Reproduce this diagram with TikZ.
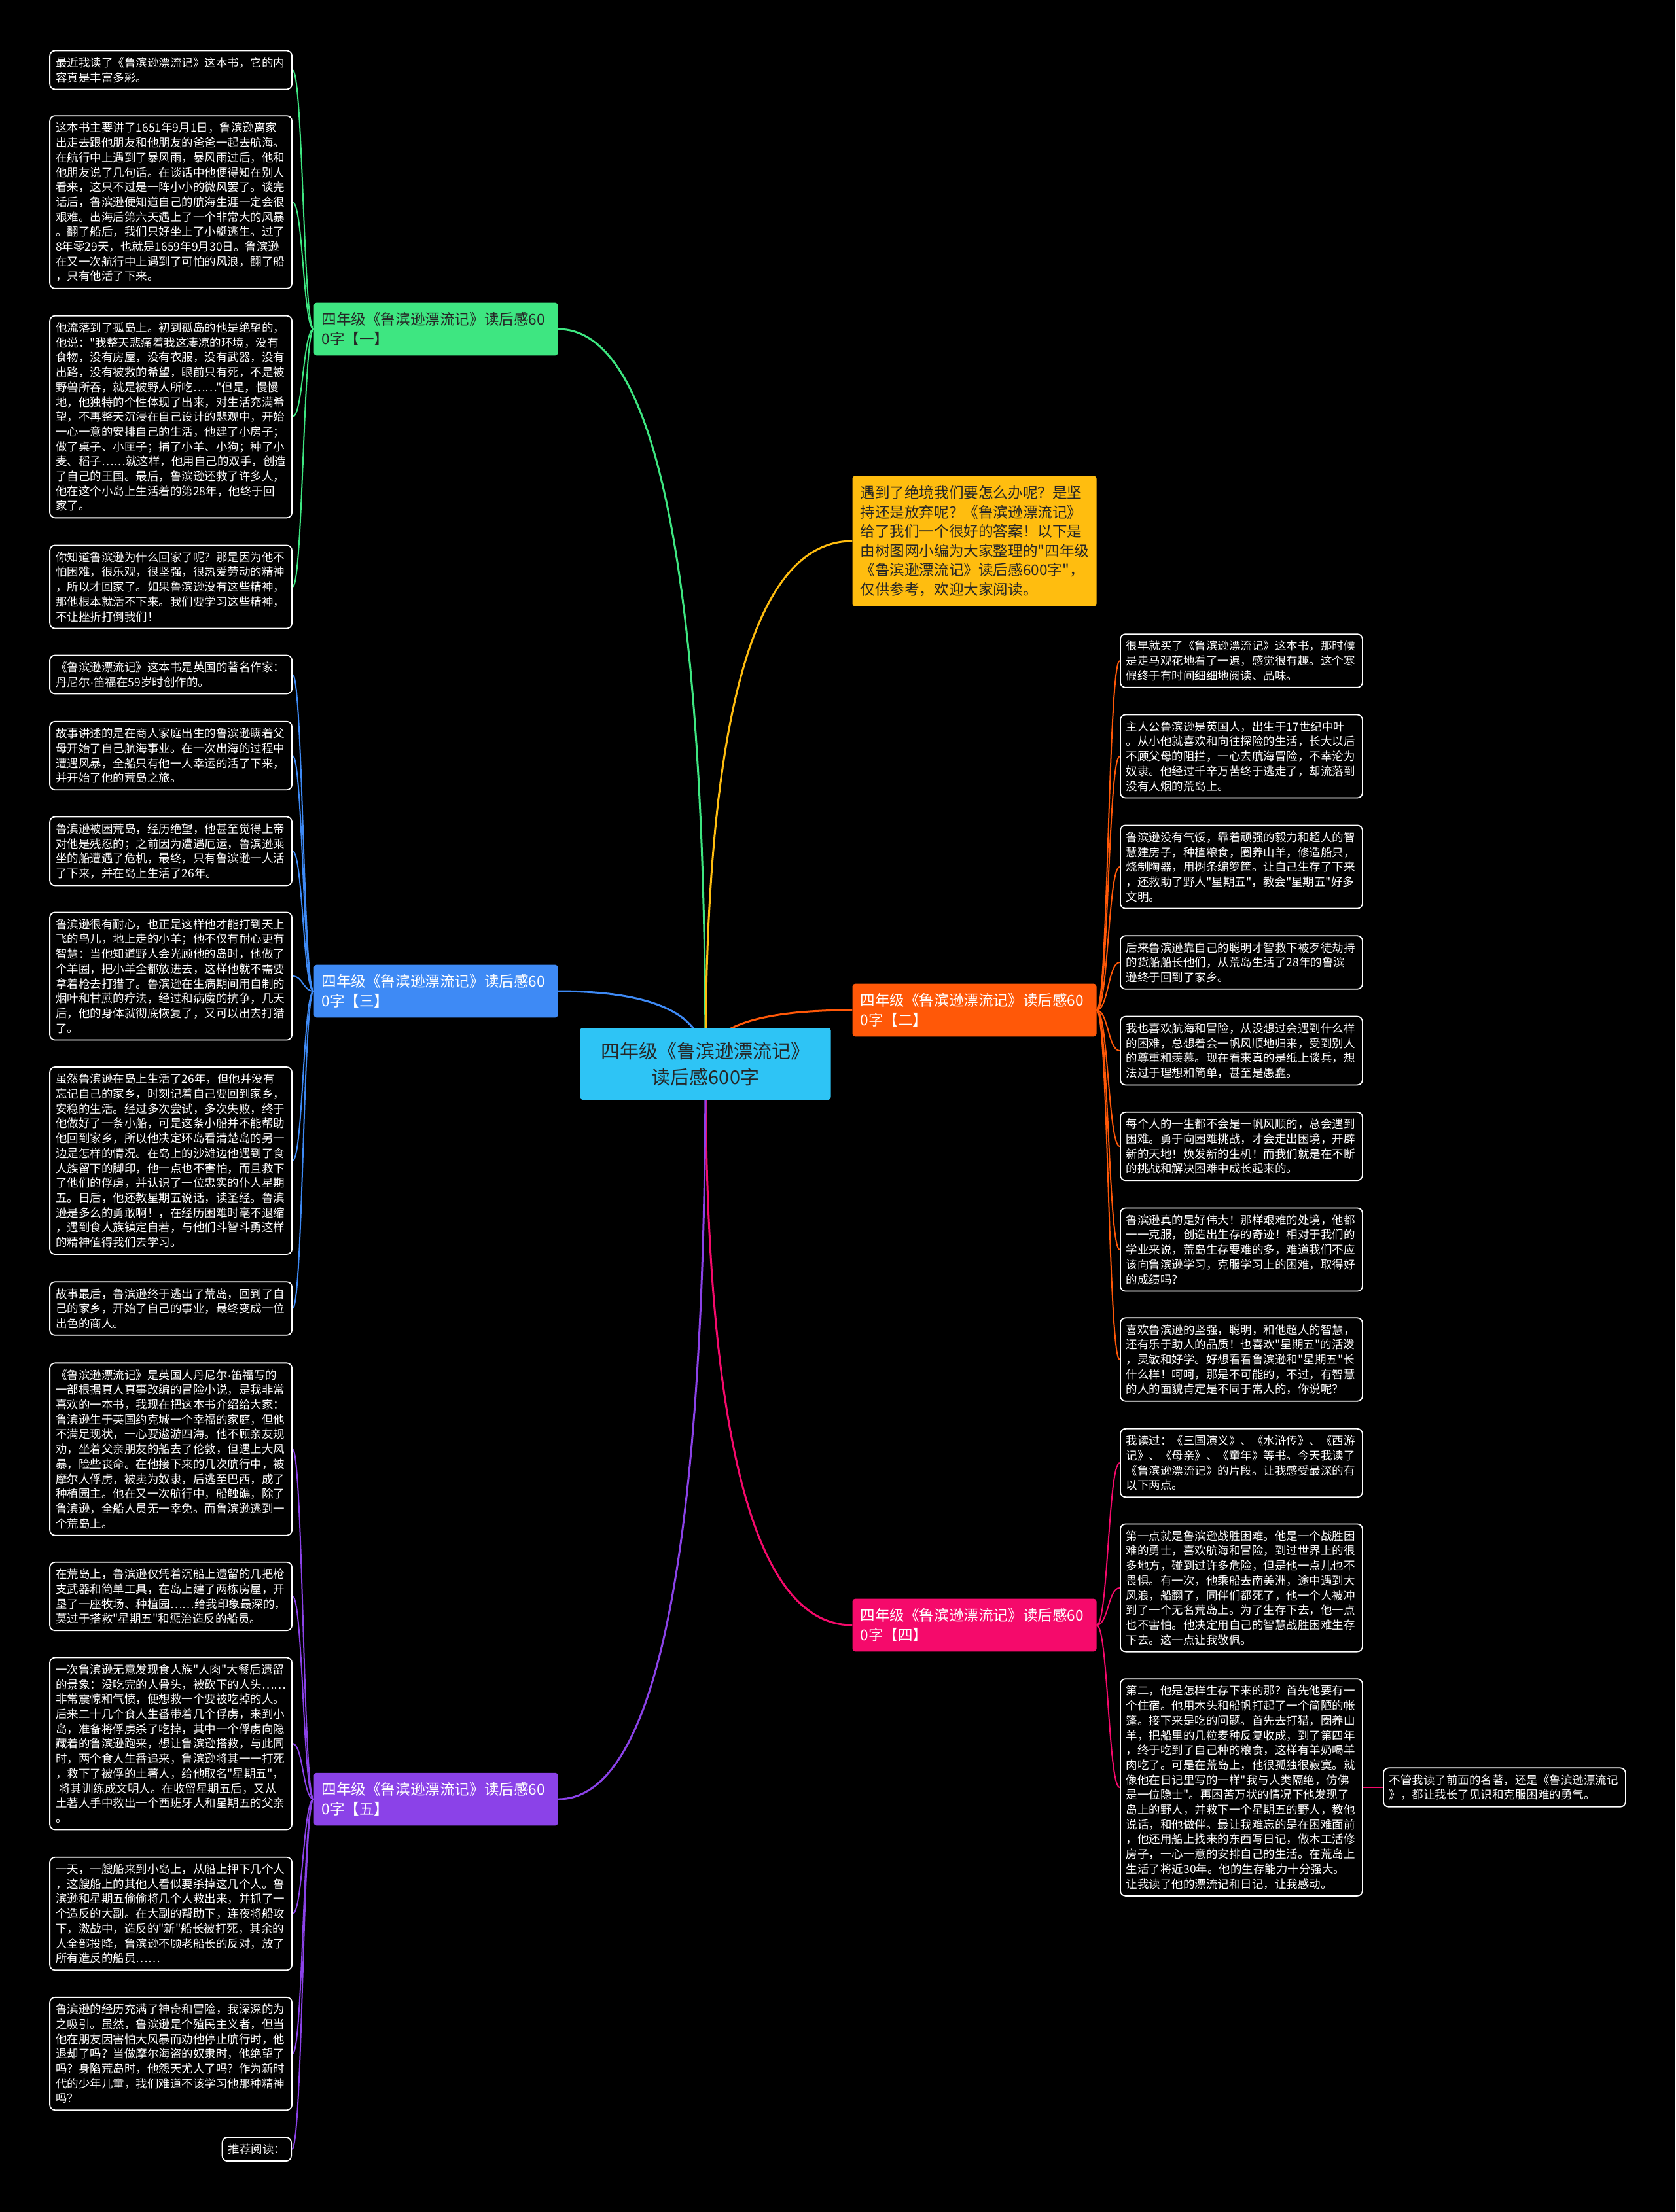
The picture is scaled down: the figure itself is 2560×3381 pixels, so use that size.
\documentclass[tikz,border=0pt]{standalone}
\usepackage{fontspec}
\setmainfont{Noto Sans CJK SC}[Ligatures=TeXOff]
\newfontfamily\latinfont{Liberation Sans}
\newcommand\middot{{\latinfont ·}}
\usepackage{tikz}
\usetikzlibrary{calc}
\definecolor{rootblue}{HTML}{2EC4F5}
\definecolor{topicgreen}{HTML}{3EE681}
\definecolor{topicyellow}{HTML}{FFBD0F}
\definecolor{topicorange}{HTML}{FF5808}
\definecolor{topicblue}{HTML}{3E8AF5}
\definecolor{topicpink}{HTML}{F50A6B}
\definecolor{topicpurple}{HTML}{8B42E8}
\definecolor{ink}{HTML}{262626}
\pgfdeclarelayer{back}
\pgfdeclarelayer{links}
\pgfsetlayers{back,links,main}

\begin{document}
\begin{tikzpicture}[x=1pt,y=-1pt,
  root/.style={fill=rootblue,rounded corners=4pt,minimum width=383pt,minimum height=110pt,align=center,text=ink,font=\fontsize{29}{40}\selectfont},
  topic/.style={rounded corners=4pt,text width=349pt,inner xsep=12pt,inner ysep=15pt,align=left,font=\fontsize{22.6}{29.5}\selectfont},
  leafbox/.style={draw=white,line width=1.8pt,rounded corners=8pt,fill=black,text=white,inner xsep=9pt,inner ysep=10pt,font=\fontsize{17.5}{22.7}\selectfont},
  leaf/.style={leafbox,text width=352pt,align=left},
  mainlink/.style={line width=3pt,to path={.. controls ($(\tikztostart)!2/3!(\tikztostart|-\tikztotarget)$) and ($(\tikztotarget)!2/3!(\tikztostart|-\tikztotarget)$) .. (\tikztotarget)}},
  leaflink/.style={line width=2pt,to path={.. controls ($(\tikztostart)!.5!(\tikztotarget|-\tikztostart)$) and ($(\tikztotarget)!.5!(\tikztostart|-\tikztotarget)$) .. (\tikztotarget)}}]
  \begin{pgfonlayer}{back}
    \fill[black] (0,0) rectangle (2560,3381);
  \end{pgfonlayer}

  \node[root] (root) at (1078,1626) {四年级《鲁滨逊漂流记》\\读后感600字};
  \node[topic,fill=topicgreen,text=ink] (t1) at (666,503) {四年级《鲁滨逊漂流记》读后感60\\0字【一】};
  \node[topic,fill=topicyellow,text=ink] (intro) at (1489,827) {遇到了绝境我们要怎么办呢？是坚\\持还是放弃呢？《鲁滨逊漂流记》\\给了我们一个很好的答案！以下是\\由树图网小编为大家整理的"四年级\\《鲁滨逊漂流记》读后感600字"，\\仅供参考，欢迎大家阅读。};
  \node[topic,fill=topicorange,text=white] (t2) at (1489,1544) {四年级《鲁滨逊漂流记》读后感60\\0字【二】};
  \node[topic,fill=topicblue,text=white] (t3) at (666,1515) {四年级《鲁滨逊漂流记》读后感60\\0字【三】};
  \node[topic,fill=topicpink,text=white] (t4) at (1489,2484) {四年级《鲁滨逊漂流记》读后感60\\0字【四】};
  \node[topic,fill=topicpurple,text=white] (t5) at (666,2750) {四年级《鲁滨逊漂流记》读后感60\\0字【五】};

  \begin{pgfonlayer}{links}
    \foreach \t/\a/\c in {t1/east/topicgreen,intro/west/topicyellow,t2/west/topicorange,t3/east/topicblue,t4/west/topicpink,t5/east/topicpurple}
      \draw[mainlink,\c] (root.center) to (\t.\a);
  \end{pgfonlayer}

  \foreach \y/\t [count=\i] in {
      107/{最近我读了《鲁滨逊漂流记》这本书，它的内\\容真是丰富多彩。},
      309/{这本书主要讲了1651年9月1日，鲁滨逊离家\\出走去跟他朋友和他朋友的爸爸一起去航海。\\在航行中上遇到了暴风雨，暴风雨过后，他和\\他朋友说了几句话。在谈话中他便得知在别人\\看来，这只不过是一阵小小的微风罢了。谈完\\话后，鲁滨逊便知道自己的航海生涯一定会很\\艰难。出海后第六天遇上了一个非常大的风暴\\。翻了船后，我们只好坐上了小艇逃生。过了\\8年零29天，也就是1659年9月30日。鲁滨逊\\在又一次航行中上遇到了可怕的风浪，翻了船\\，只有他活了下来。},
      637/{他流落到了孤岛上。初到孤岛的他是绝望的，\\他说："我整天悲痛着我这凄凉的环境，没有\\食物，没有房屋，没有衣服，没有武器，没有\\出路，没有被救的希望，眼前只有死，不是被\\野兽所吞，就是被野人所吃……"但是，慢慢\\地，他独特的个性体现了出来，对生活充满希\\望，不再整天沉浸在自己设计的悲观中，开始\\一心一意的安排自己的生活，他建了小房子；\\做了桌子、小匣子；捕了小羊、小狗；种了小\\麦、稻子……就这样，他用自己的双手，创造\\了自己的王国。最后，鲁滨逊还救了许多人，\\他在这个小岛上生活着的第28年，他终于回\\家了。},
      897/{你知道鲁滨逊为什么回家了呢？那是因为他不\\怕困难，很乐观，很坚强，很热爱劳动的精神\\，所以才回家了。如果鲁滨逊没有这些精神，\\那他根本就活不下来。我们要学习这些精神，\\不让挫折打倒我们！}}{
    \node[leaf,anchor=east] (a\i) at (447,\y) {\t};
    \begin{pgfonlayer}{links}\draw[leaflink,topicgreen] (t1.west) to (a\i.east);\end{pgfonlayer}
  }

  \foreach \y/\t [count=\i] in {
      1031/{《鲁滨逊漂流记》这本书是英国的著名作家：\\丹尼尔\middot 笛福在59岁时创作的。},
      1155/{故事讲述的是在商人家庭出生的鲁滨逊瞒着父\\母开始了自己航海事业。在一次出海的过程中\\遭遇风暴，全船只有他一人幸运的活了下来，\\并开始了他的荒岛之旅。},
      1301/{鲁滨逊被困荒岛，经历绝望，他甚至觉得上帝\\对他是残忍的；之前因为遭遇厄运，鲁滨逊乘\\坐的船遭遇了危机，最终，只有鲁滨逊一人活\\了下来，并在岛上生活了26年。},
      1492/{鲁滨逊很有耐心，也正是这样他才能打到天上\\飞的鸟儿，地上走的小羊；他不仅有耐心更有\\智慧：当他知道野人会光顾他的岛时，他做了\\个羊圈，把小羊全都放进去，这样他就不需要\\拿着枪去打猎了。鲁滨逊在生病期间用自制的\\烟叶和甘蔗的疗法，经过和病魔的抗争，几天\\后，他的身体就彻底恢复了，又可以出去打猎\\了。},
      1774/{虽然鲁滨逊在岛上生活了26年，但他并没有\\忘记自己的家乡，时刻记着自己要回到家乡，\\安稳的生活。经过多次尝试，多次失败，终于\\他做好了一条小船，可是这条小船并不能帮助\\他回到家乡，所以他决定环岛看清楚岛的另一\\边是怎样的情况。在岛上的沙滩边他遇到了食\\人族留下的脚印，他一点也不害怕，而且救下\\了他们的俘虏，并认识了一位忠实的仆人星期\\五。日后，他还教星期五说话，读圣经。鲁滨\\逊是多么的勇敢啊！，在经历困难时毫不退缩\\，遇到食人族镇定自若，与他们斗智斗勇这样\\的精神值得我们去学习。},
      2000/{故事最后，鲁滨逊终于逃出了荒岛，回到了自\\己的家乡，开始了自己的事业，最终变成一位\\出色的商人。}}{
    \node[leaf,anchor=east] (c\i) at (447,\y) {\t};
    \begin{pgfonlayer}{links}\draw[leaflink,topicblue] (t3.west) to (c\i.east);\end{pgfonlayer}
  }

  \foreach \y/\t [count=\i] in {
      2215/{《鲁滨逊漂流记》是英国人丹尼尔\middot 笛福写的\\一部根据真人真事改编的冒险小说，是我非常\\喜欢的一本书，我现在把这本书介绍给大家：\\鲁滨逊生于英国约克城一个幸福的家庭，但他\\不满足现状，一心要遨游四海。他不顾亲友规\\劝，坐着父亲朋友的船去了伦敦，但遇上大风\\暴，险些丧命。在他接下来的几次航行中，被\\摩尔人俘虏，被卖为奴隶，后逃至巴西，成了\\种植园主。他在又一次航行中，船触礁，除了\\鲁滨逊，全船人员无一幸免。而鲁滨逊逃到一\\个荒岛上。},
      2440/{在荒岛上，鲁滨逊仅凭着沉船上遗留的几把枪\\支武器和简单工具，在岛上建了两栋房屋，开\\垦了一座牧场、种植园……给我印象最深的，\\莫过于搭救"星期五"和惩治造反的船员。},
      2665/{一次鲁滨逊无意发现食人族"人肉"大餐后遗留\\的景象：没吃完的人骨头，被砍下的人头……\\非常震惊和气愤，便想救一个要被吃掉的人。\\后来二十几个食人生番带着几个俘虏，来到小\\岛，准备将俘虏杀了吃掉，其中一个俘虏向隐\\藏着的鲁滨逊跑来，想让鲁滨逊搭救，与此同\\时，两个食人生番追来，鲁滨逊将其一一打死\\，救下了被俘的土著人，给他取名"星期五"，\\\hspace*{.3em}将其训练成文明人。在收留星期五后，又从\\土著人手中救出一个西班牙人和星期五的父亲\\。},
      2925/{一天，一艘船来到小岛上，从船上押下几个人\\，这艘船上的其他人看似要杀掉这几个人。鲁\\滨逊和星期五偷偷将几个人救出来，并抓了一\\个造反的大副。在大副的帮助下，连夜将船攻\\下，激战中，造反的"新"船长被打死，其余的\\人全部投降，鲁滨逊不顾老船长的反对，放了\\所有造反的船员……},
      3139/{鲁滨逊的经历充满了神奇和冒险，我深深的为\\之吸引。虽然，鲁滨逊是个殖民主义者，但当\\他在朋友因害怕大风暴而劝他停止航行时，他\\退却了吗？当做摩尔海盗的奴隶时，他绝望了\\吗？身陷荒岛时，他怨天尤人了吗？作为新时\\代的少年儿童，我们难道不该学习他那种精神\\吗？}}{
    \node[leaf,anchor=east] (e\i) at (447,\y) {\t};
    \begin{pgfonlayer}{links}\draw[leaflink,topicpurple] (t5.west) to (e\i.east);\end{pgfonlayer}
  }
  \node[leafbox,anchor=east] (e6) at (446,3285) {推荐阅读：};
  \begin{pgfonlayer}{links}\draw[leaflink,topicpurple] (t5.west) to (e6.east);\end{pgfonlayer}

  \foreach \y/\t [count=\i] in {
      1010/{很早就买了《鲁滨逊漂流记》这本书，那时候\\是走马观花地看了一遍，感觉很有趣。这个寒\\假终于有时间细细地阅读、品味。},
      1156/{主人公鲁滨逊是英国人，出生于17世纪中叶\\。从小他就喜欢和向往探险的生活，长大以后\\不顾父母的阻拦，一心去航海冒险，不幸沦为\\奴隶。他经过千辛万苦终于逃走了，却流落到\\没有人烟的荒岛上。},
      1325/{鲁滨逊没有气馁，靠着顽强的毅力和超人的智\\慧建房子，种植粮食，圈养山羊，修造船只，\\烧制陶器，用树条编箩筐。让自己生存了下来\\，还救助了野人"星期五"，教会"星期五"好多\\文明。},
      1471/{后来鲁滨逊靠自己的聪明才智救下被歹徒劫持\\的货船船长他们，从荒岛生活了28年的鲁滨\\逊终于回到了家乡。},
      1606/{我也喜欢航海和冒险，从没想过会遇到什么样\\的困难，总想着会一帆风顺地归来，受到别人\\的尊重和羡慕。现在看来真的是纸上谈兵，想\\法过于理想和简单，甚至是愚蠢。},
      1752/{每个人的一生都不会是一帆风顺的，总会遇到\\困难。勇于向困难挑战，才会走出困境，开辟\\新的天地！焕发新的生机！而我们就是在不断\\的挑战和解决困难中成长起来的。},
      1910/{鲁滨逊真的是好伟大！那样艰难的处境，他都\\一一克服，创造出生存的奇迹！相对于我们的\\学业来说，荒岛生存要难的多，难道我们不应\\该向鲁滨逊学习，克服学习上的困难，取得好\\的成绩吗？},
      2078/{喜欢鲁滨逊的坚强，聪明，和他超人的智慧，\\还有乐于助人的品质！也喜欢"星期五"的活泼\\，灵敏和好学。好想看看鲁滨逊和"星期五"长\\什么样！呵呵，那是不可能的，不过，有智慧\\的人的面貌肯定是不同于常人的，你说呢？}}{
    \node[leaf,anchor=west] (b\i) at (1711,\y) {\t};
    \begin{pgfonlayer}{links}\draw[leaflink,topicorange] (t2.east) to (b\i.west);\end{pgfonlayer}
  }

  \foreach \y/\t [count=\i] in {
      2236/{我读过：《三国演义》、《水浒传》、《西游\\记》、《母亲》、《童年》等书。今天我读了\\《鲁滨逊漂流记》的片段。让我感受最深的有\\以下两点。},
      2427/{第一点就是鲁滨逊战胜困难。他是一个战胜困\\难的勇士，喜欢航海和冒险，到过世界上的很\\多地方，碰到过许多危险，但是他一点儿也不\\畏惧。有一次，他乘船去南美洲，途中遇到大\\风浪，船翻了，同伴们都死了，他一个人被冲\\到了一个无名荒岛上。为了生存下去，他一点\\也不害怕。他决定用自己的智慧战胜困难生存\\下去。这一点让我敬佩。},
      2732/{第二，他是怎样生存下来的那？首先他要有一\\个住宿。他用木头和船帆打起了一个简陋的帐\\篷。接下来是吃的问题。首先去打猎，圈养山\\羊，把船里的几粒麦种反复收成，到了第四年\\，终于吃到了自己种的粮食，这样有羊奶喝羊\\肉吃了。可是在荒岛上，他很孤独很寂寞。就\\像他在日记里写的一样"我与人类隔绝，仿佛\\是一位隐士"。再困苦万状的情况下他发现了\\岛上的野人，并救下一个星期五的野人，教他\\说话，和他做伴。最让我难忘的是在困难面前\\，他还用船上找来的东西写日记，做木工活修\\房子，一心一意的安排自己的生活。在荒岛上\\生活了将近30年。他的生存能力十分强大。\\让我读了他的漂流记和日记，让我感动。}}{
    \node[leaf,anchor=west] (d\i) at (1711,\y) {\t};
    \begin{pgfonlayer}{links}\draw[leaflink,topicpink] (t4.east) to (d\i.west);\end{pgfonlayer}
  }
  \node[leaf,anchor=west] (g1) at (2113,2732) {不管我读了前面的名著，还是《鲁滨逊漂流记\\》，都让我长了见识和克服困难的勇气。};
  \begin{pgfonlayer}{links}\draw[topicpink,line width=2pt] (d3.east) -- (g1.west);\end{pgfonlayer}
\end{tikzpicture}
\end{document}
